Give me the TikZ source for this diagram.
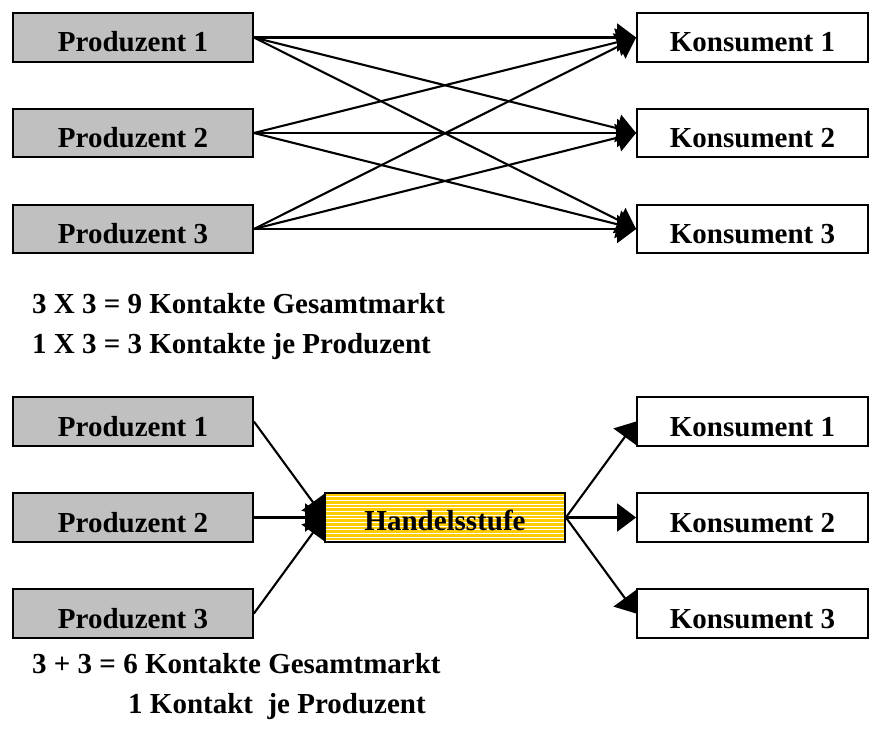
\documentclass[tikz,border=0pt]{standalone}
\usepackage{fontspec}
\setmainfont{Liberation Serif}
\usetikzlibrary{arrows.meta}
\definecolor{prodgray}{HTML}{C0C0C0}
\definecolor{tradeyellow}{HTML}{FFCC00}
\begin{document}
\begin{tikzpicture}[x=1pt,y=-1pt,
  boxtext/.style={font=\fontsize{29}{35}\selectfont\bfseries},
  box/.style={boxtext, draw=black, line width=1.8pt, minimum width=240pt,
    minimum height=48.5pt, inner sep=0pt, text height=29pt, text depth=0pt},
  prod/.style={box, fill=prodgray},
  kons/.style={box, fill=white, minimum width=231pt},
  trade/.style={box, fill=tradeyellow, text height=25pt,
    path picture={
      \foreach \k in {1,...,13}
        \draw[white, line width=0.9pt]
          ([yshift=-\k*3.65pt]path picture bounding box.north west) --
          ([yshift=-\k*3.65pt]path picture bounding box.north east);
    }},
  link/.style={line width=2.1pt, -{Triangle[length=19pt,width=28pt]}},
  note/.style={boxtext, anchor=base west, inner sep=0pt}]
\useasboundingbox (0,0) rectangle (869,749);

% direct market: every producer reaches every consumer
\node[prod] (p1) at (133,37.5) {Produzent 1};
\node[prod] (p2) at (133,133) {Produzent 2};
\node[prod] (p3) at (133,229) {Produzent 3};
\node[kons] (k1) at (752.5,37.5) {Konsument 1};
\node[kons] (k2) at (752.5,133) {Konsument 2};
\node[kons] (k3) at (752.5,229) {Konsument 3};
\foreach \p in {p1,p2,p3}
  \foreach \k in {k1,k2,k3}
    \draw[link] (\p.east) -- (\k.west);

\node[note] (n1) at (32,313) {3 X 3 = 9 Kontakte Gesamtmarkt};
\node[note] (n2) at (32,353) {1 X 3 = 3 Kontakte je Produzent};

% market with an intermediate trade level
\node[prod] (q1) at (133,421.5) {Produzent 1};
\node[prod] (q2) at (133,517.5) {Produzent 2};
\node[prod] (q3) at (133,613.5) {Produzent 3};
\node[trade] (h) at (445,517.5) {Handelsstufe};
\node[kons] (m1) at (752.5,421.5) {Konsument 1};
\node[kons] (m2) at (752.5,517.5) {Konsument 2};
\node[kons] (m3) at (752.5,613.5) {Konsument 3};
\foreach \q in {q1,q2,q3}
  \draw[link] (\q.east) -- (h.west);
\foreach \m in {m1,m2,m3}
  \draw[link] (h.east) -- (\m.west);

\node[note] (n3) at (32,673) {3 + 3 = 6 Kontakte Gesamtmarkt};
\node[note] (n4) at (128,713) {1 Kontakt\ \ je Produzent};
\end{tikzpicture}
\end{document}
